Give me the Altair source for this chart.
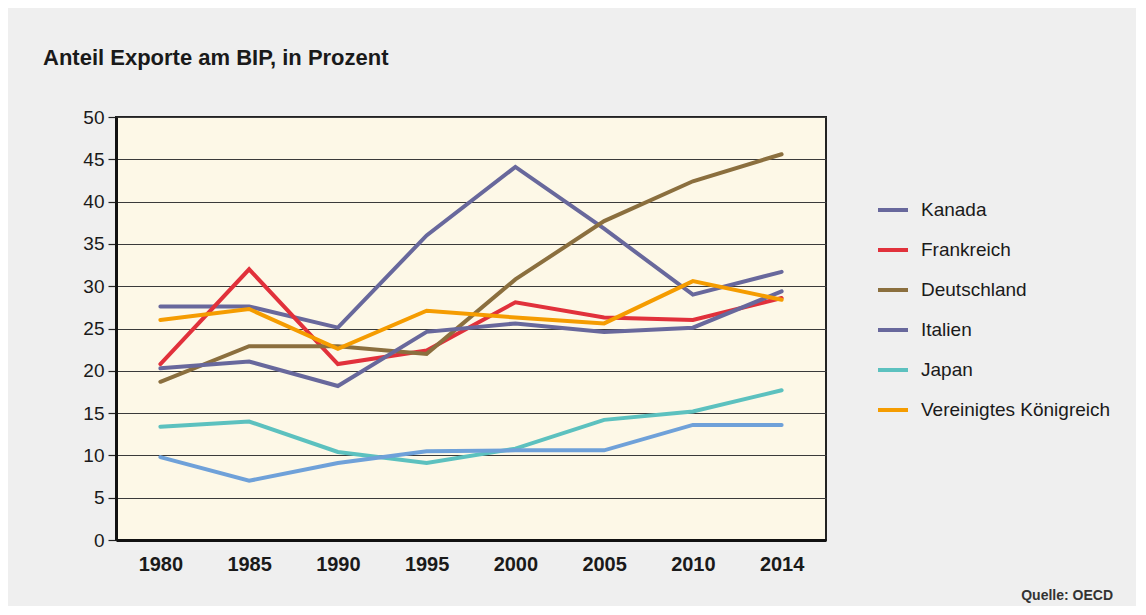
import altair as alt
import pandas as pd

years = ["1980", "1985", "1990", "1995", "2000", "2005", "2010", "2014"]

kanada = [27.6, 27.6, 25.1, 36.0, 44.1, 36.8, 29.0, 31.7]
frankreich = [20.8, 32.0, 20.8, 22.4, 28.1, 26.3, 26.0, 28.6]
deutschland = [18.7, 22.9, 22.9, 22.0, 30.8, 37.7, 42.4, 45.6]
italien = [20.3, 21.1, 18.2, 24.6, 25.6, 24.6, 25.1, 29.4]
japan = [13.4, 14.0, 10.4, 9.1, 10.8, 14.2, 15.2, 17.7]
uk = [26.0, 27.3, 22.6, 27.1, 26.3, 25.6, 30.6, 28.4]
usa = [9.8, 7.0, 9.1, 10.5, 10.6, 10.6, 13.6, 13.6]

series_names = ["Kanada", "Frankreich", "Deutschland", "Italien", "Japan",
                "Vereinigtes Königreich", "Vereinigte Staaten"]
series_values = [kanada, frankreich, deutschland, italien, japan, uk, usa]
series_colors = ["#68689c", "#e1313b", "#8b6f3e", "#68689c", "#5cc1bf",
                 "#f59c00", "#6fa1d9"]
legend_names = series_names[:6]

rows = []
for name, vals in zip(series_names, series_values):
    for y, v in zip(years, vals):
        rows.append({"Jahr": y, "Wert": v, "Land": name})
df = pd.DataFrame(rows)

FONT = "Liberation Sans"

lines = alt.Chart(df).mark_line(strokeWidth=4, strokeCap="round", strokeJoin="miter").encode(
    x=alt.X("Jahr:O", sort=years, title=None,
            scale=alt.Scale(paddingOuter=0.5),
            axis=alt.Axis(labelAngle=0, labelFont=FONT, labelFontSize=20,
                          labelFontWeight="bold", labelColor="#1a1a1a",
                          labelPadding=14, ticks=False, domain=True,
                          domainColor="#111111", domainWidth=3, grid=False)),
    y=alt.Y("Wert:Q", title=None,
            scale=alt.Scale(domain=[0, 50], nice=False),
            axis=alt.Axis(values=list(range(0, 51, 5)), labelFont=FONT,
                          labelFontSize=19, labelColor="#1a1a1a",
                          labelPadding=4, tickSize=8, tickColor="#222222",
                          tickWidth=1.2, domainColor="#111111", domainWidth=3,
                          grid=True, gridColor="#3a3a3a", gridWidth=1,
                          gridOpacity=1)),
    color=alt.Color("Land:N", sort=series_names,
                    scale=alt.Scale(domain=series_names, range=series_colors),
                    legend=alt.Legend(title=None, values=legend_names,
                                      orient="none", legendX=760, legendY=76,
                                      symbolType="stroke", symbolSize=900,
                                      symbolStrokeWidth=4, labelFont=FONT,
                                      labelFontSize=19, labelColor="#1a1a1a",
                                      labelOffset=11, rowPadding=13,
                                      labelLimit=400)),
    detail="Land:N",
)

source = alt.Chart(pd.DataFrame({"t": ["Quelle: OECD"]})).mark_text(
    align="right", baseline="middle", font=FONT, fontSize=14,
    fontWeight="bold", color="#333333"
).encode(x=alt.value(997), y=alt.value(479), text="t:N")

chart = alt.layer(lines, source).properties(
    width=710, height=423,
    title=alt.TitleParams("Anteil Exporte am BIP, in Prozent", anchor="start",
                          frame="group", dx=-73, offset=38, font=FONT,
                          fontSize=22, fontWeight="bold", color="#1a1a1a"),
    autosize=alt.AutoSizeParams(type="none"),
    padding={"left": 108, "top": 109, "right": 310, "bottom": 66},
    background="#efefef",
).configure_view(fill="#fdf8e7", stroke="#222222", strokeWidth=2)

chart.save("out.html", embed_options={"renderer": "svg", "actions": False})
